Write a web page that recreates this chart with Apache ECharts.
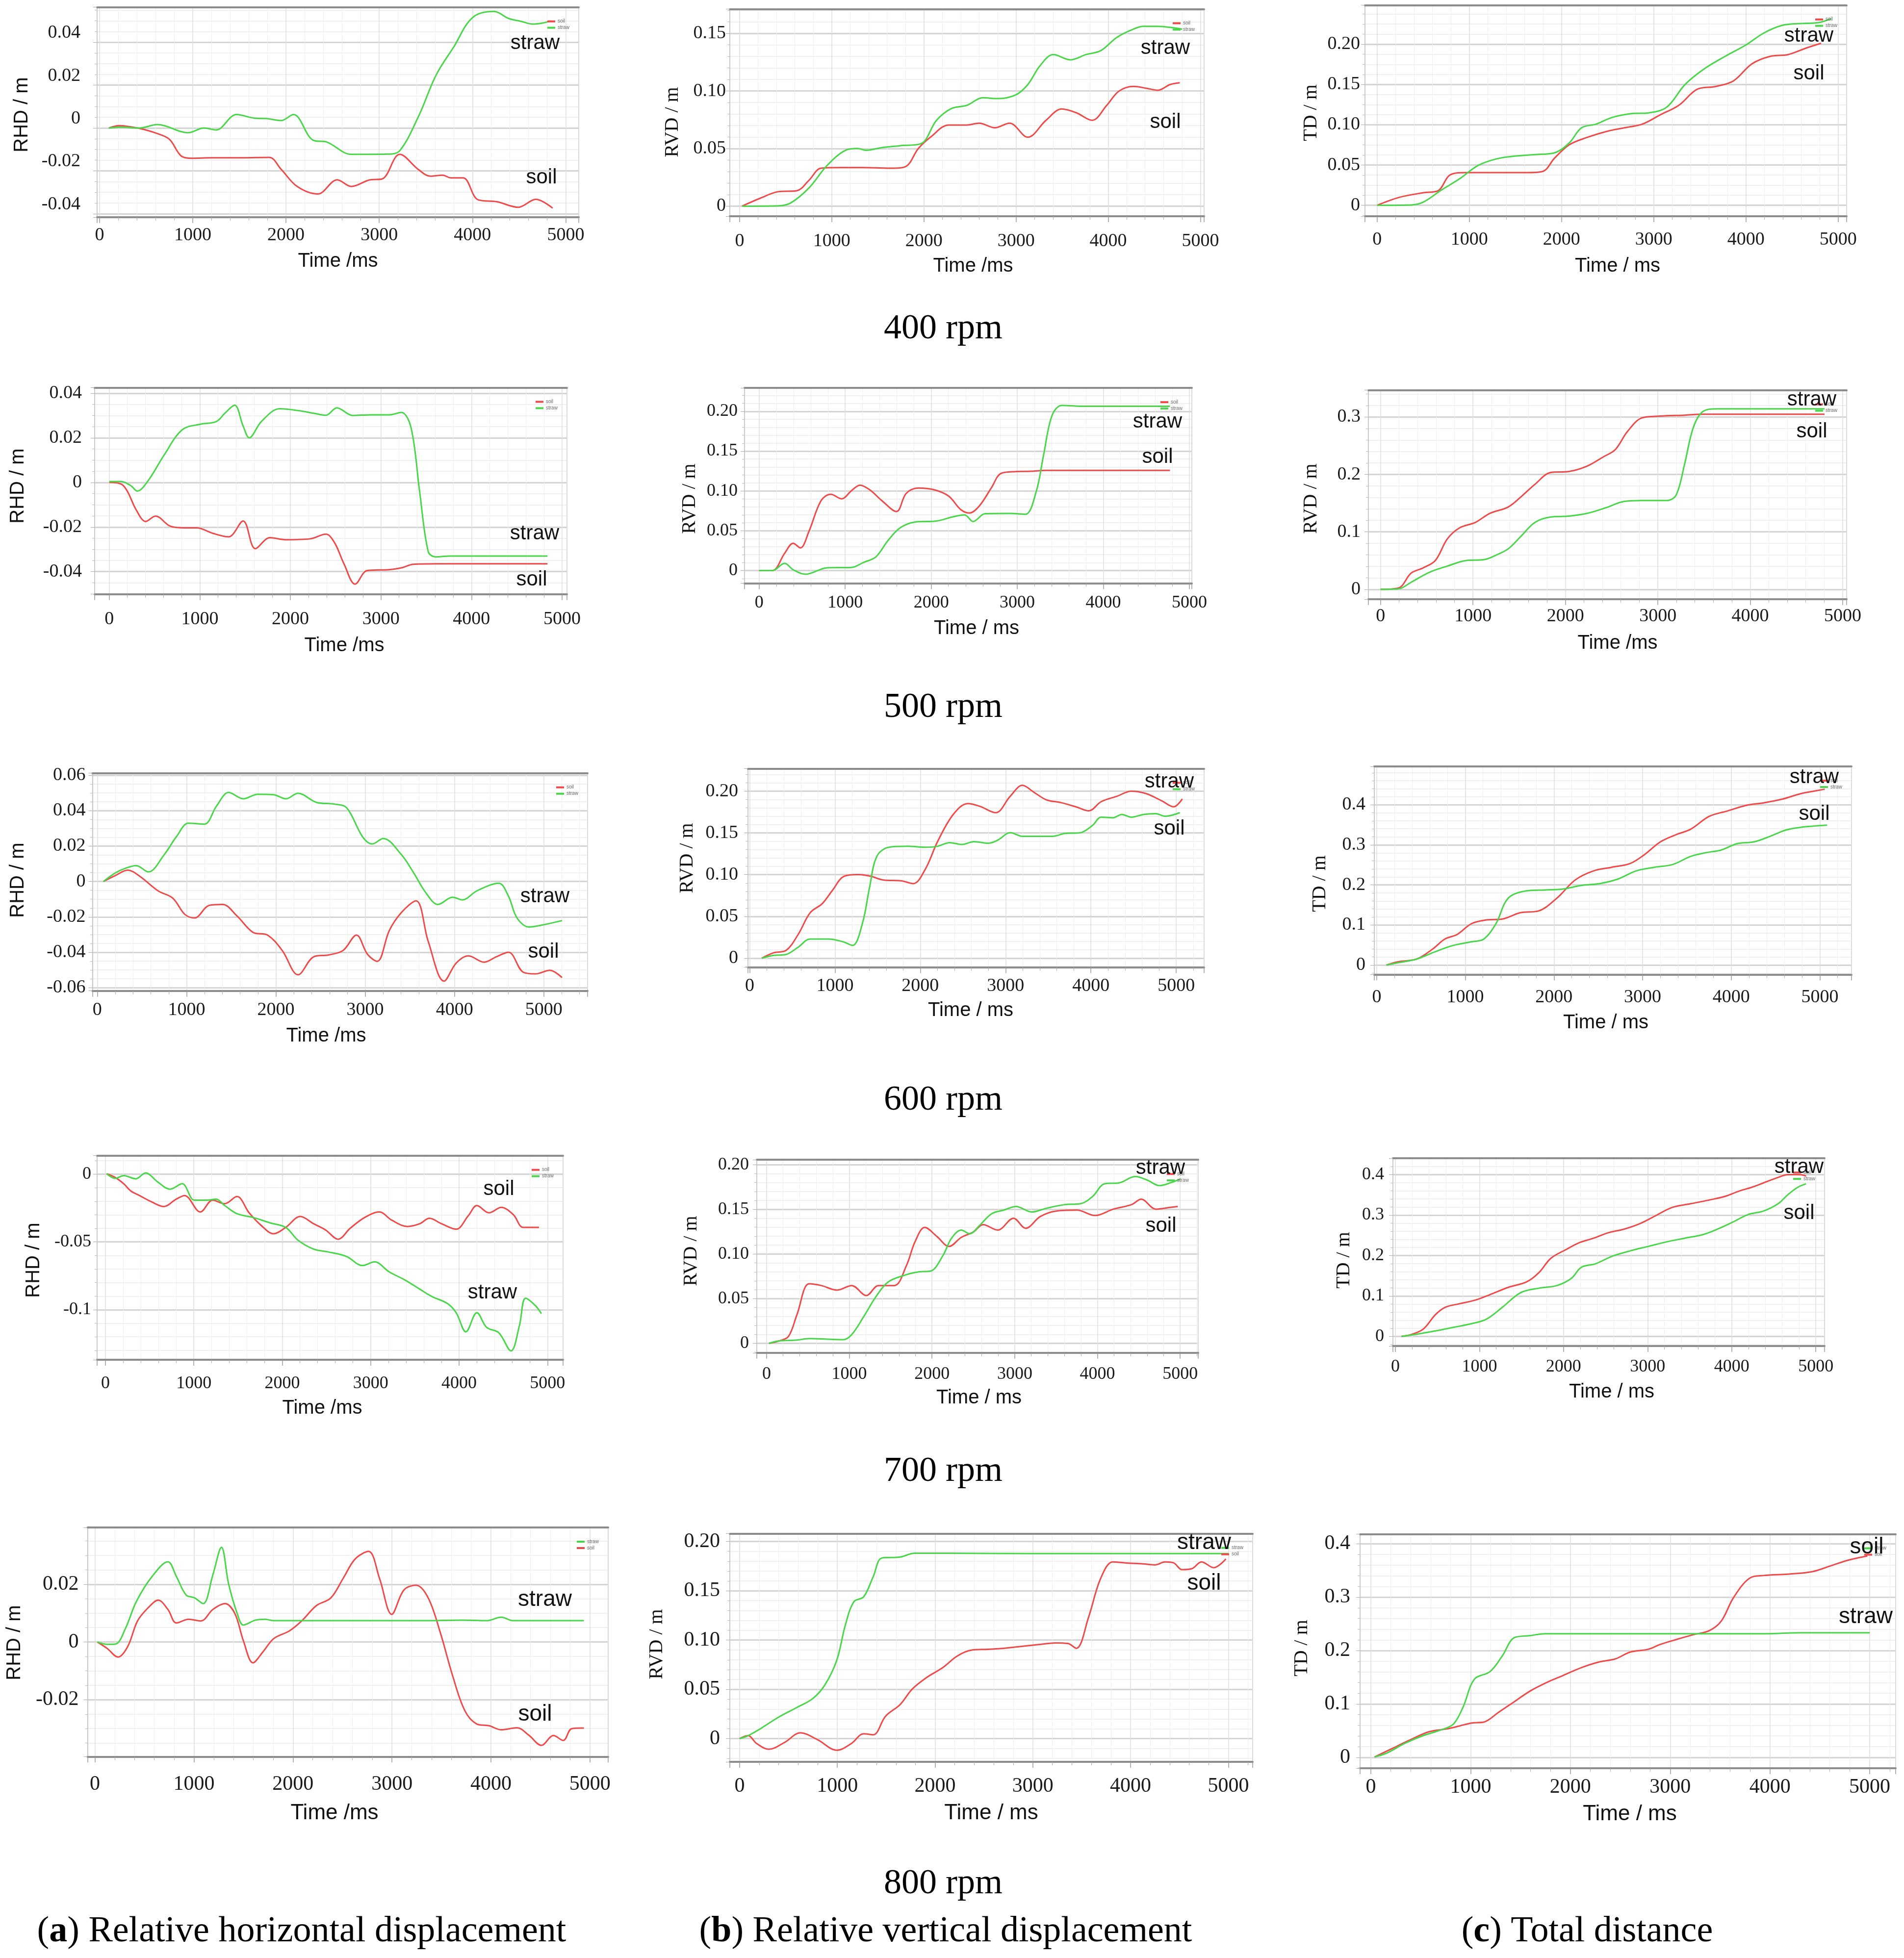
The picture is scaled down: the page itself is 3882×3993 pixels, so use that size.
<!DOCTYPE html>
<html><head><meta charset="utf-8">
<script src="https://cdn.jsdelivr.net/npm/echarts@6/dist/echarts.min.js"></script>
<style>html,body{margin:0;padding:0;background:#fff}#c{width:3882px;height:3993px}</style>
</head><body><div id="c"></div>
<script>
// ---------------- DATA: [time ms, value m] ----------------
const rhd400Straw = [[100,0],[230,0.0004],[430,0],[620,0.0016],[950,-0.0022],[1120,0],[1250,-0.0009],[1470,0.0063],[1660,0.0046],[1790,0.0044],[1950,0.0035],[2080,0.0063],[2290,-0.0057],[2440,-0.0066],[2700,-0.0123],[2830,-0.0123],[3090,-0.0122],[3220,-0.0106],[3420,0.0053],[3610,0.0247],[3800,0.0379],[4000,0.0515],[4230,0.0544],[4390,0.0511],[4520,0.0498],[4650,0.0485],[4750,0.049],[4840,0.050]];
const rhd400Soil = [[100,0],[210,0.0011],[430,-0.0002],[620,-0.0026],[750,-0.0053],[880,-0.0132],[990,-0.0141],[1210,-0.0139],[1530,-0.0139],[1820,-0.0137],[1950,-0.0194],[2120,-0.0273],[2340,-0.0308],[2550,-0.0242],[2700,-0.0273],[2900,-0.0242],[3030,-0.0238],[3220,-0.0123],[3420,-0.0194],[3550,-0.0225],[3680,-0.022],[3770,-0.0233],[3900,-0.0233],[4060,-0.0335],[4260,-0.0344],[4490,-0.037],[4680,-0.0333],[4860,-0.0374]];
const rvd400Straw = [[26,0],[420,0.0003],[554,0.0028],[752,0.0158],[950,0.0354],[1148,0.0485],[1280,0.0501],[1372,0.0485],[1544,0.0509],[1741,0.0525],[1966,0.0542],[2137,0.0746],[2296,0.0847],[2467,0.0876],[2639,0.0942],[2797,0.0934],[2995,0.0966],[3127,0.1056],[3259,0.1219],[3404,0.1317],[3588,0.1271],[3760,0.1317],[3918,0.135],[4090,0.1464],[4248,0.1529],[4380,0.1562],[4538,0.1562],[4710,0.1549],[4802,0.1537]];
const rvd400Soil = [[26,0],[224,0.0069],[420,0.0126],[620,0.0134],[752,0.0224],[884,0.033],[1082,0.0335],[1346,0.0335],[1675,0.033],[1807,0.0346],[1940,0.0501],[2071,0.0599],[2270,0.0705],[2467,0.0705],[2599,0.0721],[2770,0.0681],[2929,0.0721],[3127,0.0599],[3325,0.0746],[3496,0.0844],[3654,0.0811],[3826,0.0746],[3984,0.0876],[4116,0.0999],[4274,0.104],[4420,0.1023],[4538,0.1007],[4670,0.1056],[4776,0.1072]];
const td400Straw = [[0,0],[369,0.0005],[501,0.004],[699,0.0191],[897,0.0331],[1095,0.0495],[1293,0.0576],[1491,0.0611],[1715,0.063],[1926,0.0653],[2084,0.0775],[2216,0.0962],[2375,0.1008],[2546,0.109],[2744,0.1137],[2942,0.1148],[3140,0.1218],[3338,0.1498],[3536,0.1685],[3773,0.1849],[3997,0.1989],[4195,0.214],[4393,0.2234],[4591,0.2257],[4789,0.2269],[4921,0.2315]];
const td400Soil = [[0,0],[237,0.0098],[501,0.0156],[660,0.018],[792,0.0378],[963,0.0406],[1293,0.0406],[1623,0.0406],[1794,0.042],[1926,0.0588],[2084,0.0752],[2282,0.0845],[2480,0.0915],[2678,0.0962],[2876,0.1008],[3074,0.1125],[3272,0.1242],[3470,0.144],[3668,0.1475],[3865,0.1545],[4063,0.1755],[4261,0.1849],[4459,0.1872],[4657,0.1954],[4815,0.2012]];

const rhd500Straw = [[0,0.0004],[134,0.0004],[242,-0.0016],[309,-0.0039],[430,0.0008],[605,0.0122],[806,0.0236],[1008,0.0261],[1183,0.0273],[1277,0.031],[1384,0.0346],[1478,0.0253],[1546,0.02],[1680,0.0273],[1882,0.033],[2083,0.0322],[2258,0.031],[2392,0.0301],[2513,0.0334],[2688,0.03],[2890,0.0303],[3091,0.0303],[3226,0.0314],[3333,0.0244],[3427,-0.0041],[3522,-0.031],[3602,-0.0334],[3763,-0.033],[4167,-0.033],[4839,-0.033]];
const rhd500Soil = [[0,0],[134,-0.0008],[202,-0.0041],[296,-0.0122],[403,-0.0175],[511,-0.0151],[672,-0.0196],[833,-0.0204],[968,-0.0204],[1142,-0.0228],[1317,-0.0244],[1478,-0.0173],[1613,-0.0297],[1774,-0.0248],[1949,-0.0257],[2218,-0.0253],[2392,-0.0232],[2486,-0.0269],[2594,-0.0367],[2715,-0.0456],[2849,-0.0395],[3091,-0.0391],[3226,-0.0383],[3360,-0.0367],[3629,-0.0365],[4167,-0.0365],[4839,-0.0365]];
const rvd500Straw = [[0,0],[155,0],[297,0.0091],[395,0.0011],[537,-0.0046],[791,0.0034],[1073,0.0039],[1215,0.0103],[1356,0.0171],[1497,0.0376],[1638,0.0536],[1808,0.0609],[2062,0.0622],[2246,0.0673],[2387,0.07],[2486,0.0616],[2627,0.0714],[2910,0.0718],[3093,0.0707],[3220,0.0992],[3305,0.1448],[3404,0.1949],[3517,0.2075],[3757,0.2063],[4181,0.2063],[4774,0.2063]];
const rvd500Soil = [[0,0],[155,0],[297,0.0217],[395,0.0342],[480,0.0285],[579,0.049],[720,0.0878],[833,0.0958],[960,0.0901],[1073,0.1003],[1172,0.1072],[1285,0.1015],[1427,0.0878],[1596,0.0741],[1709,0.0969],[1850,0.1037],[2034,0.1015],[2203,0.0935],[2345,0.0764],[2444,0.0723],[2557,0.0809],[2698,0.1037],[2811,0.122],[2980,0.1243],[3164,0.1247],[3333,0.1259],[3898,0.1259],[4774,0.1259]];
const td500Straw = [[0,0],[197,0.0009],[329,0.012],[526,0.0294],[724,0.0405],[921,0.05],[1118,0.0516],[1250,0.0595],[1382,0.0706],[1513,0.0912],[1671,0.1165],[1842,0.126],[2039,0.1275],[2237,0.1323],[2434,0.1418],[2632,0.1529],[2829,0.1545],[3092,0.1545],[3197,0.1639],[3289,0.2177],[3382,0.281],[3487,0.3095],[3645,0.3143],[4013,0.3143],[4803,0.3143]];
const td500Soil = [[0,0],[197,0.0025],[329,0.0279],[461,0.0373],[592,0.05],[724,0.088],[855,0.107],[1026,0.1165],[1184,0.1323],[1382,0.1434],[1539,0.1639],[1671,0.1829],[1842,0.2035],[2039,0.2051],[2237,0.2146],[2408,0.2304],[2539,0.2431],[2671,0.2747],[2829,0.2985],[3026,0.3016],[3289,0.3032],[3487,0.3048],[4803,0.3048]];

const rhd600Straw = [[68,0],[204,0.0049],[313,0.0074],[436,0.009],[572,0.0054],[749,0.0151],[886,0.0253],[1022,0.0329],[1199,0.0324],[1335,0.0426],[1471,0.0503],[1635,0.0467],[1798,0.0493],[1975,0.049],[2112,0.0467],[2248,0.0498],[2452,0.0447],[2657,0.0437],[2793,0.0416],[2970,0.0253],[3079,0.0212],[3202,0.0243],[3406,0.0151],[3542,0.0049],[3678,-0.0063],[3815,-0.013],[3978,-0.0089],[4087,-0.0104],[4251,-0.0053],[4496,-0.001],[4605,-0.0084],[4700,-0.0206],[4837,-0.0257],[4973,-0.0247],[5204,-0.0221]];
const rhd600Soil = [[68,0],[204,0.0034],[341,0.0064],[477,0.0029],[681,-0.0053],[845,-0.0094],[981,-0.0186],[1090,-0.0206],[1253,-0.0135],[1403,-0.013],[1567,-0.0196],[1744,-0.0288],[1907,-0.0303],[2071,-0.039],[2248,-0.0527],[2425,-0.0425],[2589,-0.0415],[2752,-0.039],[2902,-0.0303],[3025,-0.0411],[3134,-0.0451],[3270,-0.0277],[3406,-0.0175],[3569,-0.0109],[3706,-0.0339],[3883,-0.0563],[4019,-0.0461],[4155,-0.042],[4332,-0.0456],[4469,-0.0425],[4605,-0.04],[4768,-0.0512],[4905,-0.0522],[5068,-0.0502],[5204,-0.0543]];
const rvd600Straw = [[142,0],[284,0.0033],[426,0.0044],[568,0.0131],[710,0.0229],[923,0.0229],[1094,0.0196],[1207,0.0153],[1321,0.0414],[1406,0.085],[1491,0.122],[1634,0.1329],[1847,0.134],[2060,0.1329],[2202,0.134],[2344,0.1384],[2486,0.1362],[2628,0.1395],[2798,0.1377],[2912,0.1416],[3054,0.1503],[3196,0.146],[3409,0.146],[3551,0.146],[3693,0.1493],[3878,0.1503],[4020,0.1591],[4119,0.1689],[4261,0.1682],[4361,0.1721],[4474,0.1689],[4616,0.1721],[4759,0.1732],[4872,0.17],[5043,0.1743]];
const rvd600Soil = [[142,0],[284,0.0065],[426,0.0092],[568,0.0283],[710,0.0545],[852,0.0654],[966,0.0806],[1108,0.0981],[1278,0.1002],[1420,0.0981],[1563,0.0937],[1776,0.0926],[1918,0.0893],[2060,0.1068],[2202,0.1395],[2386,0.1721],[2557,0.1852],[2699,0.1819],[2884,0.1743],[3054,0.1939],[3196,0.207],[3338,0.1983],[3480,0.1896],[3651,0.1863],[3835,0.1809],[3977,0.1765],[4119,0.1874],[4304,0.1939],[4474,0.2],[4645,0.1972],[4830,0.1885],[4972,0.1813],[5071,0.1907]];
const td600Soil = [[110,0],[247,0.0082],[453,0.015],[632,0.0399],[769,0.0649],[907,0.0762],[1071,0.1034],[1236,0.1125],[1415,0.1147],[1621,0.1306],[1827,0.1351],[2033,0.1669],[2239,0.2122],[2445,0.2349],[2651,0.244],[2857,0.2531],[3022,0.2757],[3201,0.3075],[3379,0.3256],[3544,0.3392],[3750,0.371],[3956,0.3846],[4162,0.3982],[4368,0.405],[4574,0.414],[4780,0.4276],[4945,0.4345],[5055,0.439]];
const td600Straw = [[110,0],[247,0.0059],[453,0.015],[659,0.0331],[865,0.049],[1071,0.058],[1209,0.0649],[1346,0.1034],[1484,0.1669],[1690,0.185],[1896,0.1873],[2102,0.1896],[2308,0.1986],[2514,0.2032],[2720,0.2145],[2926,0.2349],[3132,0.244],[3338,0.2508],[3544,0.2712],[3709,0.2803],[3887,0.2871],[4066,0.3029],[4258,0.3075],[4437,0.3211],[4615,0.3369],[4780,0.3438],[5082,0.3492]];

const rhd700Straw = [[14,0.0003],[110,-0.0031],[207,-0.0011],[344,-0.0034],[455,0.0009],[592,-0.0058],[730,-0.0111],[868,-0.0071],[1006,-0.0192],[1143,-0.0192],[1253,-0.0185],[1350,-0.0232],[1488,-0.0292],[1667,-0.0319],[1860,-0.0359],[2039,-0.0393],[2176,-0.0486],[2355,-0.0553],[2521,-0.0574],[2727,-0.0607],[2906,-0.0674],[3044,-0.0647],[3209,-0.0721],[3388,-0.0781],[3554,-0.0848],[3691,-0.0902],[3870,-0.0955],[3967,-0.1022],[4077,-0.1163],[4201,-0.1022],[4311,-0.113],[4449,-0.117],[4587,-0.1304],[4683,-0.1116],[4752,-0.0915],[4862,-0.0969],[4931,-0.1029]];
const rhd700Soil = [[14,0.0003],[110,-0.0024],[207,-0.0071],[289,-0.0125],[386,-0.0158],[524,-0.0205],[661,-0.0239],[799,-0.0185],[895,-0.0158],[1074,-0.0279],[1212,-0.0192],[1350,-0.0218],[1488,-0.0165],[1625,-0.0285],[1763,-0.0379],[1901,-0.044],[2039,-0.0393],[2204,-0.0312],[2355,-0.0366],[2493,-0.0413],[2631,-0.048],[2769,-0.0399],[2934,-0.0319],[3099,-0.0279],[3237,-0.0339],[3416,-0.0386],[3554,-0.0366],[3664,-0.0326],[3802,-0.0366],[3967,-0.0406],[4105,-0.0306],[4201,-0.0232],[4339,-0.0285],[4477,-0.0245],[4614,-0.0299],[4725,-0.0393],[4904,-0.0393]];
const rvd700Straw = [[29,0],[147,0.0026],[368,0.0037],[515,0.0053],[735,0.0047],[926,0.0041],[1029,0.0098],[1176,0.0301],[1324,0.0525],[1471,0.0688],[1691,0.0769],[1838,0.08],[1985,0.081],[2132,0.0983],[2235,0.1176],[2353,0.1268],[2456,0.1227],[2574,0.1319],[2721,0.1451],[2868,0.1492],[3015,0.1532],[3206,0.1471],[3382,0.1512],[3603,0.1553],[3794,0.1563],[3941,0.1644],[4088,0.1787],[4265,0.1797],[4456,0.1868],[4603,0.1827],[4750,0.1766],[4882,0.1797],[5000,0.1838]];
const rvd700Soil = [[29,0],[147,0.0026],[265,0.0077],[368,0.0322],[515,0.0667],[662,0.0647],[853,0.0596],[1029,0.0647],[1206,0.0535],[1353,0.0647],[1544,0.0647],[1691,0.0871],[1794,0.1136],[1912,0.1298],[2059,0.1197],[2206,0.1085],[2353,0.1186],[2500,0.1247],[2618,0.1329],[2794,0.1268],[2985,0.14],[3132,0.1288],[3309,0.142],[3500,0.1481],[3750,0.1492],[3971,0.1431],[4191,0.1502],[4412,0.1553],[4529,0.1614],[4706,0.1502],[4882,0.1522],[4971,0.1532]];
const td700Soil = [[72,0],[188,0.0045],[332,0.018],[477,0.0539],[592,0.0719],[766,0.0809],[954,0.0899],[1127,0.1034],[1344,0.1213],[1561,0.1348],[1705,0.1573],[1850,0.1932],[2038,0.2157],[2182,0.2314],[2355,0.2427],[2529,0.2562],[2717,0.2651],[2905,0.2786],[3078,0.2966],[3295,0.3191],[3512,0.3281],[3728,0.3371],[3916,0.346],[4090,0.3595],[4234,0.3685],[4379,0.3797],[4552,0.3932],[4668,0.4],[4812,0.4],[4884,0.3964]];
const td700Straw = [[72,0],[260,0.0054],[477,0.0135],[694,0.0225],[910,0.0315],[1084,0.0427],[1272,0.0719],[1488,0.1079],[1705,0.1191],[1922,0.1258],[2095,0.1438],[2211,0.1708],[2384,0.1798],[2572,0.1977],[2789,0.2112],[3006,0.2225],[3223,0.2337],[3439,0.2427],[3656,0.2517],[3829,0.2651],[4017,0.2831],[4191,0.3011],[4379,0.3101],[4552,0.3281],[4668,0.3505],[4783,0.3685],[4884,0.3775]];

const rhd800Straw = [[25,0],[123,-0.0008],[209,-0.0007],[307,0.0046],[418,0.014],[577,0.0227],[737,0.0278],[823,0.0227],[921,0.0163],[1007,0.0153],[1093,0.0133],[1192,0.0234],[1278,0.0328],[1351,0.02],[1437,0.0099],[1499,0.0059],[1622,0.0076],[1720,0.0079],[1806,0.0074],[2113,0.0074],[2727,0.0074],[3342,0.0074],[3710,0.0076],[3956,0.0074],[4103,0.0086],[4226,0.0074],[4570,0.0074],[4939,0.0074]];
const rhd800Soil = [[25,0],[123,-0.0022],[233,-0.0052],[332,-0.0015],[430,0.0073],[541,0.012],[639,0.0145],[737,0.0113],[823,0.0066],[946,0.0079],[1069,0.0073],[1192,0.0113],[1314,0.0133],[1413,0.0099],[1499,0.0005],[1597,-0.0072],[1695,-0.0035],[1806,0.0012],[1966,0.0039],[2088,0.0073],[2236,0.0126],[2383,0.0153],[2506,0.022],[2629,0.0288],[2764,0.0314],[2875,0.022],[2998,0.0096],[3120,0.018],[3243,0.0197],[3366,0.0153],[3489,0.0032],[3612,-0.0116],[3735,-0.0237],[3857,-0.0284],[3980,-0.029],[4103,-0.0304],[4263,-0.0297],[4386,-0.0324],[4509,-0.0358],[4631,-0.0324],[4730,-0.0341],[4816,-0.03],[4939,-0.0298]];
const rvd800Straw = [[0,0],[87,0.003],[211,0.0099],[398,0.0217],[585,0.0315],[746,0.0404],[871,0.0542],[995,0.0798],[1082,0.1152],[1169,0.1389],[1269,0.1438],[1368,0.1645],[1455,0.1832],[1642,0.1842],[1791,0.1881],[2139,0.1881],[3010,0.1877],[4129,0.1877],[5000,0.1877]];
const rvd800Soil = [[0,0],[87,0.003],[174,-0.0049],[299,-0.0108],[460,-0.0039],[622,0.0059],[796,-0.001],[995,-0.0118],[1144,-0.0049],[1269,0.0049],[1368,0.0039],[1493,0.0227],[1642,0.0345],[1766,0.0502],[1915,0.0621],[2077,0.0719],[2226,0.0837],[2363,0.0896],[2537,0.0906],[2699,0.0916],[2886,0.0936],[3072,0.0955],[3234,0.0971],[3358,0.0965],[3445,0.0916],[3570,0.1231],[3694,0.1625],[3818,0.1793],[3943,0.1783],[4129,0.1773],[4254,0.1763],[4353,0.1793],[4440,0.1783],[4527,0.1714],[4627,0.1724],[4726,0.1793],[4851,0.1734],[4975,0.1822]];
const td800Straw = [[37,0.0007],[159,0.008],[341,0.0262],[524,0.0407],[707,0.0516],[829,0.0625],[927,0.0953],[1037,0.1462],[1195,0.1607],[1317,0.1898],[1439,0.2243],[1598,0.228],[1744,0.2316],[2110,0.2316],[2720,0.2316],[3329,0.2316],[3939,0.2316],[4305,0.2334],[5000,0.2334]];
const td800Soil = [[37,0.0007],[220,0.0171],[402,0.0335],[585,0.048],[768,0.0535],[890,0.0589],[1012,0.0644],[1134,0.0662],[1280,0.0844],[1439,0.1044],[1598,0.1244],[1768,0.1407],[1927,0.1534],[2110,0.168],[2293,0.1789],[2451,0.1844],[2598,0.1971],[2780,0.2025],[2902,0.2116],[3061,0.2207],[3232,0.2298],[3390,0.2371],[3512,0.2553],[3634,0.2989],[3793,0.3352],[3939,0.3407],[4183,0.3432],[4427,0.348],[4610,0.3589],[4793,0.3698],[4976,0.3771]];

const rowLabels = ['400 rpm', '500 rpm', '600 rpm', '700 rpm', '800 rpm'];
const captionLetters = ['a', 'b', 'c'];
const captionTexts = ['Relative horizontal displacement', 'Relative vertical displacement', 'Total distance'];
const seriesNames = ['soil', 'straw'];

// ---------------- LAYOUT ----------------
const SOIL = '#ef4a4a', STRAW = '#4ad64a';
const SANS = 'Liberation Sans', SERIF = 'Liberation Serif';
const panels = [
 {g:[198,14.6,1180,442.8], x:[-26,5140], y:[-0.0416,0.0564], yi:0.02, ym:4, dec:2, yn:'RHD / m', ynf:SANS, ynp:[45,234], xn:'Time /ms', xnp:[689,533], xm:18, ymg:34, yva:'bottom', soil:rhd400Soil, straw:rhd400Straw, lg:['soil','straw'], lab:[['straw',1091,88],['soil',1104,362]], fs:38},
 {g:[1488,18.4,2455,440.9], x:[-106,5040], y:[-0.0087,0.1712], yi:0.05, ym:5, dec:2, yn:'RVD / m', ynf:SERIF, ynp:[1371,249], xn:'Time /ms', xnp:[1984,543], xm:32, ymg:8, soil:rvd400Soil, straw:rvd400Straw, lg:['soil','straw'], lab:[['straw',2376,98],['soil',2376,249]], fs:38},
 {g:[2783,10.7,3765,440.9], x:[-132,5092], y:[-0.0135,0.2484], yi:0.05, ym:4, dec:2, yn:'TD / m', ynf:SERIF, ynp:[2673,230], xn:'Time / ms', xnp:[3298,543], xm:29, ymg:10, soil:td400Soil, straw:td400Straw, lg:['soil','straw'], lab:[['straw',3688,73],['soil',3688,150]], fs:38},

 {g:[193,790.4,1156,1211.7], x:[-161,5054], y:[-0.0501,0.0425], yi:0.02, ym:4, dec:2, yn:'RHD / m', ynf:SANS, ynp:[37,991], xn:'Time /ms', xnp:[702,1317], xm:32, ymg:26, soil:rhd500Soil, straw:rhd500Straw, lg:['soil','straw'], lab:[['straw',1090,1088],['soil',1084,1182]], fs:38},
 {g:[1518,791.1,2430,1189.5], x:[-169,5028], y:[-0.016,0.2294], yi:0.05, ym:5, dec:2, yn:'RVD / m', ynf:SERIF, ynp:[1406,1017], xn:'Time / ms', xnp:[1991,1282], xm:22, ymg:14, soil:rvd500Soil, straw:rvd500Straw, lg:['soil','straw'], lab:[['straw',2360,860],['soil',2360,932]], fs:36},
 {g:[2790,795.6,3765,1221.8], x:[-131,5042], y:[-0.0171,0.3468], yi:0.1, ym:5, dec:1, yn:'RVD / m', ynf:SERIF, ynp:[2673,1017], xn:'Time /ms', xnp:[3298,1312], xm:16, ymg:16, soil:td500Soil, straw:td500Straw, lg:['soil','straw'], lab:[['straw',3694,815],['soil',3694,880]], fs:38},

 {g:[188.5,1576.7,1198,2020.7], x:[-54,5490], y:[-0.0618,0.0612], yi:0.02, ym:4, dec:2, yn:'RHD / m', ynf:SANS, ynp:[37,1795], xn:'Time /ms', xnp:[665,2113], xm:20, ymg:14, soil:rhd600Soil, straw:rhd600Straw, lg:['soil','straw'], lab:[['straw',1111,1828],['soil',1108,1941]], fs:38},
 {g:[1525,1567.4,2455,1972.5], x:[-20,5327], y:[-0.0109,0.2271], yi:0.05, ym:5, dec:2, yn:'RVD / m', ynf:SERIF, ynp:[1401,1750], xn:'Time / ms', xnp:[1979,2061], xm:20, ymg:20, soil:rvd600Soil, straw:rvd600Straw, lg:['soil','straw'], lab:[['straw',2384,1594],['soil',2384,1690]], fs:38},
 {g:[2802,1563,3775,1987.3], x:[-27,5357], y:[-0.0237,0.4958], yi:0.1, ym:5, dec:1, yn:'TD / m', ynf:SERIF, ynp:[2691,1802], xn:'Time / ms', xnp:[3274,2086], xm:28, ymg:18, soil:td600Soil, straw:td600Straw, lg:['soil','straw'], lab:[['straw',3699,1585],['soil',3699,1660]], fs:38},

 {g:[198,2356.7,1148,2772.9], x:[-94,5176], y:[-0.1369,0.01367], yi:0.05, ym:5, dec:null, yn:'RHD / m', ynf:SANS, ynp:[69,2570], xn:'Time /ms', xnp:[657,2872], xm:31, ymg:12, soil:rhd700Soil, straw:rhd700Straw, lg:['soil','straw'], lab:[['soil',1017,2425],['straw',1004,2636]], fs:36},
 {g:[1543,2365.2,2443,2758.8], x:[-118,5218], y:[-0.0106,0.2055], yi:0.05, ym:5, dec:2, yn:'RVD / m', ynf:SERIF, ynp:[1409,2551], xn:'Time / ms', xnp:[1996,2851], xm:26, ymg:16, soil:rvd700Soil, straw:rvd700Straw, lg:['soil','straw'], lab:[['straw',2366,2382],['soil',2367,2500]], fs:36},
 {g:[2840,2362.2,3720,2745], x:[-29,5104], y:[-0.0239,0.4404], yi:0.1, ym:5, dec:1, yn:'TD / m', ynf:SERIF, ynp:[2740,2570], xn:'Time / ms', xnp:[3286,2839], xm:25, ymg:18, soil:td700Soil, straw:td700Straw, lg:['soil','straw'], lab:[['straw',3668,2380],['soil',3668,2474]], fs:36},

 {g:[178.6,3115,1240,3582.3], x:[-74,5184], y:[-0.0397,0.0397], yi:0.02, ym:4, dec:2, yn:'RHD / m', ynf:SANS, ynp:[30,3350], xn:'Time /ms', xnp:[682,3698], xm:36, ymg:18, soil:rhd800Soil, straw:rhd800Straw, lg:['straw','soil'], lab:[['straw',1111,3262],['soil',1091,3496]], fs:42},
 {g:[1488,3127.7,2554,3593], x:[-100,5249], y:[-0.0236,0.2079], yi:0.05, ym:5, dec:2, yn:'RVD / m', ynf:SERIF, ynp:[1339,3353], xn:'Time / ms', xnp:[2021,3698], xm:29, ymg:20, soil:rvd800Soil, straw:rvd800Straw, lg:['straw','soil'], lab:[['straw',2455,3146],['soil',2455,3229]], fs:42},
 {g:[2773,3128.5,3865,3606], x:[-108,5260], y:[-0.0204,0.4182], yi:0.1, ym:5, dec:1, yn:'TD / m', ynf:SERIF, ynp:[2654,3361], xn:'Time / ms', xnp:[3323,3700], xm:18, ymg:20, soil:td800Soil, straw:td800Straw, lg:['straw','soil'], lab:[['soil',3806,3155],['straw',3804,3297]], fs:42}
];
const rowLabelY = [671, 1443, 2244, 3001, 3842];
const captionX = [615, 1928, 3236];
const captionY = 3940;

// ---------------- BUILD ----------------
const option = {backgroundColor:'#ffffff', animation:false, grid:[], xAxis:[], yAxis:[], series:[], legend:[], graphic:[]};
const fmtY = (dec) => (v) => Math.abs(v) < 1e-9 ? '0' : (dec != null ? v.toFixed(dec) : String(parseFloat(v.toFixed(4))));

panels.forEach((p, i) => {
  const [l, t, r, b] = p.g;
  const row = Math.floor(i / 3);
  option.grid.push({left:l, top:t, width:r - l, height:b - t, show:true, borderColor:'#c4c4c4', borderWidth:1.5, backgroundColor:'#ffffff', containLabel:false});
  option.xAxis.push({
    type:'value', gridIndex:i, position:'bottom', min:p.x[0], max:p.x[1], minInterval:1000, maxInterval:1000, splitNumber:5,
    axisLine:{show:true, onZero:false, lineStyle:{color:'#8c8c8c', width:4}},
    axisTick:{show:true, length:12, lineStyle:{color:'#999', width:1.5}},
    minorTick:{show:true, splitNumber:5, length:7, lineStyle:{color:'#aaa', width:1}},
    axisLabel:{show:true, margin:p.xm, fontFamily:SERIF, fontSize:p.fs, color:'#1a1a1a', showMinLabel:false, showMaxLabel:false, formatter:(v)=>String(Math.round(v))},
    splitLine:{show:true, lineStyle:{color:'#dedede', width:1.5}},
    minorSplitLine:{show:true, lineStyle:{color:'#efefef', width:1}}
  });
  option.xAxis.push({
    type:'value', gridIndex:i, position:'top', min:p.x[0], max:p.x[1],
    axisLine:{show:true, onZero:false, lineStyle:{color:'#8c8c8c', width:4}},
    axisTick:{show:false}, axisLabel:{show:false}, splitLine:{show:false}
  });
  option.yAxis.push({
    type:'value', gridIndex:i, min:p.y[0], max:p.y[1], minInterval:p.yi, maxInterval:p.yi, splitNumber:5,
    axisLine:{show:true, onZero:false, lineStyle:{color:'#c4c4c4', width:1.5}},
    axisTick:{show:true, length:8, lineStyle:{color:'#aaa', width:1}},
    minorTick:{show:true, splitNumber:p.ym, length:5, lineStyle:{color:'#bbb', width:1}},
    axisLabel:{show:true, margin:p.ymg, fontFamily:SERIF, fontSize:p.fs, color:'#1a1a1a', showMinLabel:false, showMaxLabel:false, verticalAlign:p.yva || 'middle', formatter:fmtY(p.dec)},
    splitLine:{show:true, lineStyle:{color:'#d4d4d4', width:3}},
    minorSplitLine:{show:true, lineStyle:{color:'#ececec', width:1.5}}
  });
  const mk = (name, data, color) => ({
    type:'line', name:name, xAxisIndex:2 * i, yAxisIndex:i, data:data, showSymbol:false, symbol:'none',
    smooth:0.35, lineStyle:{width:3, color:color}, itemStyle:{color:color}, z:3
  });
  option.series.push(mk('soil', p.soil, SOIL));
  option.series.push(mk('straw', p.straw, STRAW));
  option.legend.push({
    data:p.lg, orient:'vertical', left:r - 64, top:t + 24, itemWidth:16, itemHeight:4, itemGap:3, icon:'rect',
    selectedMode:false, padding:0, textStyle:{fontSize:10, color:'#666', fontFamily:SANS}
  });
  option.graphic.push({type:'text', x:p.ynp[0], y:p.ynp[1], rotation:Math.PI / 2, z:10,
    style:{text:p.yn, fill:'#111', font:'40px "' + p.ynf + '"', align:'center', verticalAlign:'middle'}});
  option.graphic.push({type:'text', x:p.xnp[0], y:p.xnp[1], z:10,
    style:{text:p.xn, fill:'#111', font:(row === 4 ? 44 : 40) + 'px "' + SANS + '"', align:'center', verticalAlign:'middle'}});
  p.lab.forEach(([txt, x, y]) => {
    option.graphic.push({type:'text', x:x, y:y, z:10,
      style:{text:txt, fill:'#111', font:(row === 4 ? 46 : 42) + 'px "' + SANS + '"', align:'center', verticalAlign:'middle'}});
  });
});

rowLabels.forEach((txt, k) => {
  option.graphic.push({type:'text', x:1923, y:rowLabelY[k], z:10,
    style:{text:txt, fill:'#000', font:'72px "' + SERIF + '"', align:'center', verticalAlign:'middle'}});
});
captionLetters.forEach((c, k) => {
  option.graphic.push({type:'text', x:captionX[k], y:captionY, z:10,
    style:{text:'{n|(}{b|' + c + '}{n|) ' + captionTexts[k] + '}', align:'center', verticalAlign:'middle',
      rich:{n:{fontFamily:SERIF, fontSize:74, fill:'#000', color:'#000'}, b:{fontFamily:SERIF, fontSize:74, fontWeight:'bold', fill:'#000', color:'#000'}}}});
});

const chart = echarts.init(document.getElementById('c'), null, {renderer:'canvas', width:3882, height:3993});
chart.setOption(option);
</script></body></html>
